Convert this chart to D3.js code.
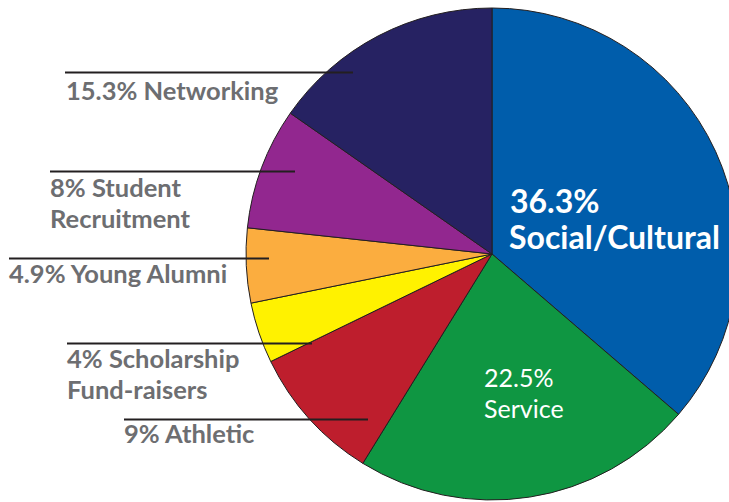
<!doctype html>
<html>
<head>
  <meta charset="utf-8" />
  <title>Alumni chapter events</title>
  <script src="https://d3js.org/d3.v7.min.js"></script>
  <style>
    body { margin: 0; background: #fff; }
    svg { display: block; }
    .outer { font-family: Lato, "Open Sans", sans-serif; font-weight: 700; fill: #6d6e71; font-size: 25.5px; }
    .inner { font-family: Lato, "Open Sans", sans-serif; font-weight: 700; fill: #fff; }
  </style>
</head>
<body>
  <svg></svg>
  <script>
    var categories = ["Social/Cultural", "Service", "Athletic", "Scholarship Fund-raisers", "Young Alumni", "Student Recruitment", "Networking"];
    var shares = [36.3, 22.5, 9, 4, 4.9, 8, 15.3];
    var colors = ["#005dab", "#0f9642", "#be1e2d", "#fff200", "#fbad3f", "#92278f", "#262262"];

    // label text (lines) for the callouts on the left
    var labelLines = [
      ["15.3% Networking"],
      ["8% Student", "Recruitment"],
      ["4.9% Young Alumni"],
      ["4% Scholarship", "Fund-raisers"],
      ["9% Athletic"]
    ];

    var width = 729, height = 502,
      cx = 492, cy = 254, radius = 246;

    var svg = d3.select("svg").attr("width", width).attr("height", height);

    var pie = d3.pie().sort(null).value(function(d) { return d; });
    var arc = d3.arc().innerRadius(0).outerRadius(radius);

    var arcs = pie(shares);

    var g = svg.append("g").attr("transform", "translate(" + cx + "," + cy + ")");

    g.selectAll("path")
      .data(arcs)
      .enter()
      .append("path")
      .attr("d", arc)
      .attr("fill", function(d, i) { return colors[i]; })
      .attr("stroke", "#231f20")
      .attr("stroke-width", 1);

    // callout lines + text, left side
    var callouts = [
      { x1: 65, x2: 353, y: 72.5, tx: 66, ty: [100] },
      { x1: 50, x2: 295, y: 171.5, tx: 50, ty: [197, 228] },
      { x1: 9, x2: 269, y: 258.5, tx: 9, ty: [283] },
      { x1: 67, x2: 312, y: 343.5, tx: 67, ty: [367.5, 398.5] },
      { x1: 124, x2: 368, y: 419.5, tx: 124, ty: [443] }
    ];

    callouts.forEach(function(c, i) {
      svg.append("line")
        .attr("x1", c.x1).attr("x2", c.x2)
        .attr("y1", c.y).attr("y2", c.y)
        .attr("stroke", "#231f20")
        .attr("stroke-width", 2);
      labelLines[i].forEach(function(t, j) {
        svg.append("text")
          .attr("class", "outer")
          .attr("x", c.tx)
          .attr("y", c.ty[j])
          .text(t);
      });
    });

    // labels inside the two big slices
    svg.append("text").attr("class", "inner").attr("x", 510).attr("y", 213)
      .style("font-size", "32px").text(shares[0] + "%");
    svg.append("text").attr("class", "inner").attr("x", 509).attr("y", 249)
      .style("font-size", "32px").text(categories[0]);

    svg.append("text").attr("class", "inner").attr("x", 484).attr("y", 387)
      .style("font-size", "25px").style("font-weight", 400).text(shares[1] + "%");
    svg.append("text").attr("class", "inner").attr("x", 484).attr("y", 418)
      .style("font-size", "25px").style("font-weight", 400).text(categories[1]);
  </script>
</body>
</html>
